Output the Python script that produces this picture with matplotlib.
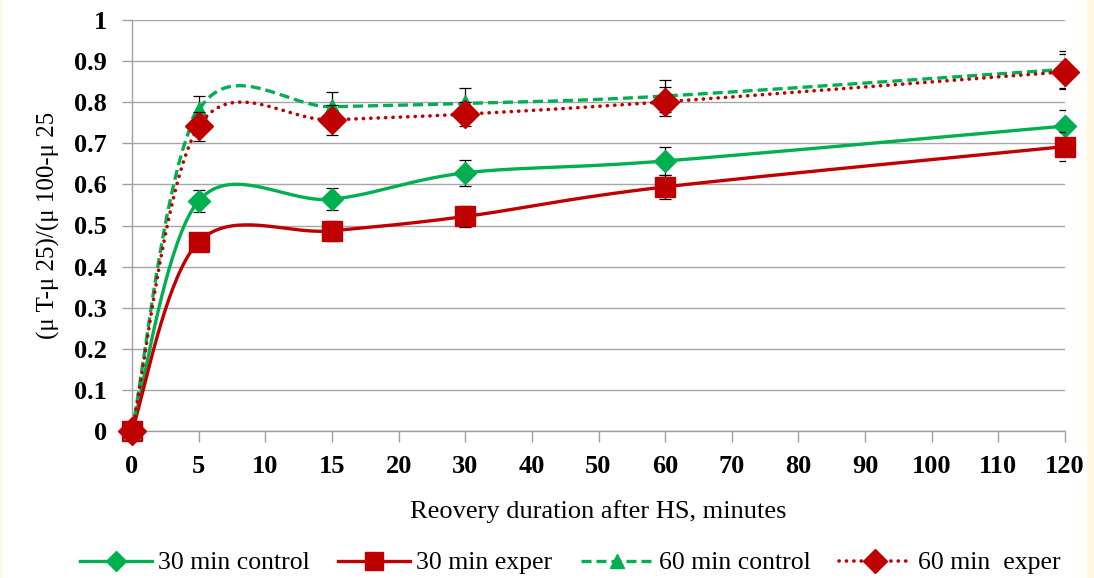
import matplotlib
matplotlib.use("Agg")
import matplotlib.pyplot as plt
import numpy as np
from matplotlib.lines import Line2D
from matplotlib.patches import Rectangle

# ---- data ----
tick_labels = ['0', '5', '10', '15', '20', '30', '40', '50', '60', '70', '80', '90', '100', '110', '120']
minutes = [0, 5, 15, 30, 60, 120]

ctrl30 = [0.0, 0.560, 0.564, 0.628, 0.657, 0.742]
ctrl30_err = [0.0, 0.027, 0.027, 0.032, 0.034, 0.039]
exp30 = [0.0, 0.460, 0.487, 0.522, 0.594, 0.692]
exp30_err = [0.0, 0.022, 0.025, 0.025, 0.030, 0.035]
ctrl60 = [0.0, 0.780, 0.789, 0.797, 0.815, 0.880]
ctrl60_err = [0.0, 0.034, 0.036, 0.038, 0.040, 0.045]
exp60 = [0.0, 0.741, 0.757, 0.771, 0.801, 0.874]
exp60_err = [0.0, 0.035, 0.036, 0.030, 0.035, 0.043]

series_names = ['30 min control', '30 min exper', '60 min control', '60 min  exper']

GREEN = '#00B050'
RED = '#C00000'

plt.rcParams['font.family'] = ['Liberation Serif', 'DejaVu Serif']


def smooth(xs, ys, n=40):
    P = np.column_stack([xs, ys]).astype(float)
    out = [P[0]]
    m = len(P)
    for i in range(m - 1):
        p0 = P[i - 1] if i > 0 else P[i]
        p1 = P[i]
        p2 = P[i + 1]
        p3 = P[i + 2] if i + 2 < m else P[i + 1]
        b1 = p1 + (p2 - p0) / 6.0
        b2 = p2 - (p3 - p1) / 6.0
        t = np.linspace(0, 1, n)[1:, None]
        seg = ((1 - t) ** 3) * p1 + 3 * ((1 - t) ** 2) * t * b1 + 3 * (1 - t) * t ** 2 * b2 + t ** 3 * p2
        out.extend(seg)
    out = np.array(out)
    return out[:, 0], out[:, 1]


fig = plt.figure(figsize=(10.94, 5.78), dpi=100)
fig.patch.set_facecolor('white')
fig.patches.append(Rectangle((1087 / 1094, 0), 7 / 1094, 1, transform=fig.transFigure,
                             facecolor='#FFF8E1', edgecolor='none', zorder=0))
fig.patches.append(Rectangle((0, 0), 3 / 1094, 1, transform=fig.transFigure,
                             facecolor='#FFFBEA', edgecolor='none', zorder=0))

L, R, T, B = 132, 1065, 20, 431
ax = fig.add_axes([L / 1094, 1 - B / 578, (R - L) / 1094, (B - T) / 578])

xpos = [tick_labels.index(str(m)) for m in minutes]

DOT = (0, (0.05, 2.0))
DASH = (0, (3.0, 1.5))
specs = [
    (ctrl30, ctrl30_err, GREEN, '-', 'D', 11, 2.4, 3),
    (exp30, exp30_err, RED, '-', 's', 14, 2.4, 4),
    (ctrl60, ctrl60_err, GREEN, DASH, '^', 11, 2.4, 5),
    (exp60, exp60_err, RED, DOT, 'D', 14, 2.6, 6),
]

handles = []
for (vals, errs, col, ls, mk, ms, lw, z), name in zip(specs, series_names):
    sx, sy = smooth(xpos, vals)
    cap = 'round' if ls is DOT else 'butt'
    ax.plot(sx, sy, color=col, lw=lw, ls=ls, dash_capstyle=cap, zorder=z, clip_on=False)
    ax.errorbar(xpos[1:], vals[1:], yerr=errs[1:], fmt='none', ecolor='black',
                elinewidth=0.9, capsize=4, capthick=0.9, zorder=z + 0.1)
    ax.plot(xpos, vals, ls='none', marker=mk, ms=ms, color=col, mec=col,
            zorder=z + 0.2, clip_on=False)
    h = Line2D([], [], color=col, lw=lw, ls=ls, marker=mk, ms=ms * 0.9, mec=col,
               dash_capstyle=cap)
    handles.append(h)

ax.set_xlim(0, len(tick_labels) - 1)
ax.set_ylim(0, 1)
ax.set_xticks(range(len(tick_labels)))
ax.set_xticklabels(tick_labels)
ax.set_yticks(np.arange(0, 1.01, 0.1))
ax.set_yticklabels(['0', '0.1', '0.2', '0.3', '0.4', '0.5', '0.6', '0.7', '0.8', '0.9', '1'])

for lab in ax.get_xticklabels() + ax.get_yticklabels():
    lab.set_fontweight('bold')
    lab.set_fontsize(19)

ax.tick_params(axis='x', direction='out', length=8, width=1, color='#A0A0A0', pad=9)
ax.tick_params(axis='y', direction='out', length=7, width=1, color='#A0A0A0', pad=11)

ax.grid(axis='y', color='#A6A6A6', lw=1)
ax.set_axisbelow(True)
for s in ['top', 'right']:
    ax.spines[s].set_visible(False)
for s in ['left', 'bottom']:
    ax.spines[s].set_color('#A0A0A0')
    ax.spines[s].set_linewidth(1)

ax.set_xlabel('Reovery duration after HS, minutes', fontsize=19, labelpad=16)
ax.set_ylabel('(μ T-μ 25)/(μ 100-μ 25', fontsize=18, labelpad=10)

fig.legend(handles=handles, labels=series_names, loc='center', ncol=4,
           bbox_to_anchor=(570 / 1094, 1 - 563 / 578), frameon=False,
           fontsize=18.5, handlelength=2.8, handletextpad=0.25, columnspacing=1.1)

fig.savefig('out.png', dpi=100, facecolor='white')
